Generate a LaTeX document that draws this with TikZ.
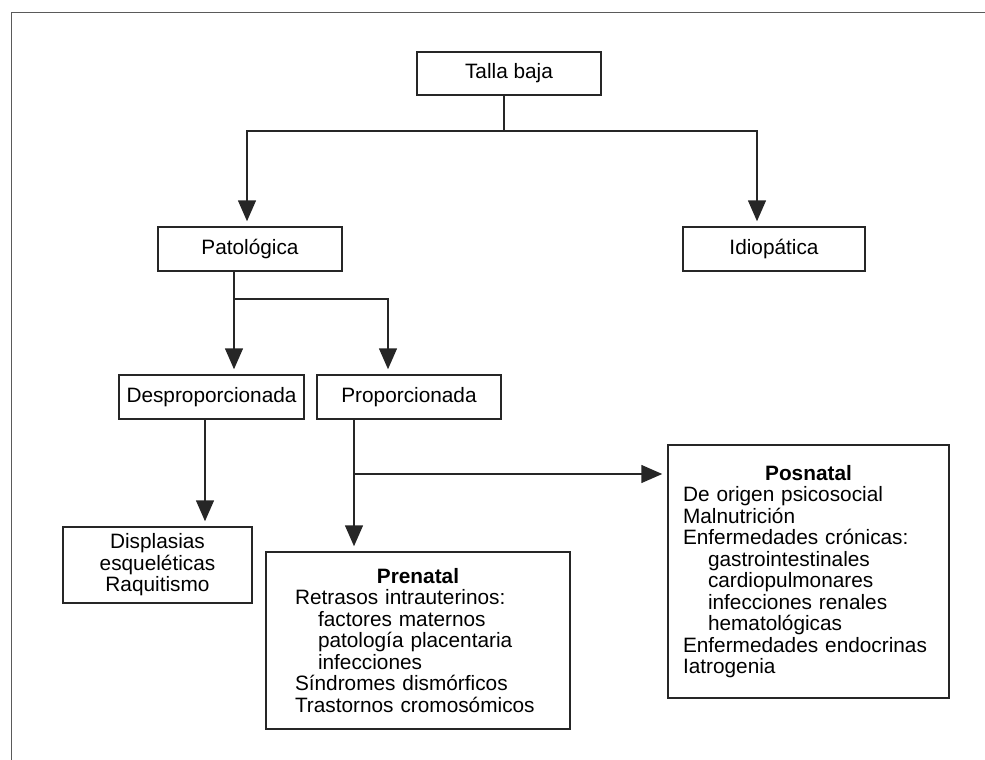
\documentclass[tikz,border=0pt]{standalone}
\usepackage{fontspec}
\setmainfont{Liberation Sans}
\usetikzlibrary{arrows.meta,positioning}
\definecolor{linea}{HTML}{262626}
\definecolor{marco}{HTML}{5A5A5A}
\hyphenpenalty=10000

\begin{document}
\begin{tikzpicture}[x=1pt, y=-1pt,
  box/.style={draw=linea, line width=1.5pt, inner sep=0pt, minimum height=44pt,
              text=black, font=\fontsize{20.8}{21.5}\selectfont},
  listbox/.style={box, align=left},
  arr/.style={draw=linea, line width=1.5pt,
              -{Triangle[length=21pt,width=18pt]}, shorten >=5pt}]
  \useasboundingbox (0,0) rectangle (985,760);
  % marco exterior
  \draw[marco, line width=1.5pt] (11.7,760) -- (11.7,12.7) -- (985,12.7);
  % cajas
  \node[box, minimum width=184pt, minimum height=43pt] (talla) at (509,73.5) {Talla baja};
  \node[box, minimum width=184pt] (pato) at (250,249) {Patológica};
  \node[box, minimum width=182pt] (idio) at (774,249) {Idiopática};
  \node[box, minimum width=185pt] (desp) at (211.5,397) {Desproporcionada};
  \node[box, minimum width=184pt] (prop) at (409,397) {Proporcionada};
  \node[box, align=center, minimum width=189pt, minimum height=76pt] (displ) at (157.5,565)
      {Displasias\\esqueléticas\\Raquitismo};
  \node[listbox, text width=246pt, inner xsep=29pt, minimum height=177pt] (prenatal) at (418,640.5)
      {\makebox[\hsize]{\textbf{Prenatal}}\\
       Retrasos intrauterinos:\\
       \hspace*{23pt}factores maternos\\
       \hspace*{23pt}patología placentaria\\
       \hspace*{23pt}infecciones\\
       Síndromes dismórficos\\
       Trastornos cromosómicos};
  \node[listbox, text width=251pt, inner xsep=15pt, minimum height=253pt] (posnatal) at (808.5,571.5)
      {\makebox[\hsize]{\textbf{Posnatal}}\\
       De origen psicosocial\\
       Malnutrición\\
       Enfermedades crónicas:\\
       \hspace*{25pt}gastrointestinales\\
       \hspace*{25pt}cardiopulmonares\\
       \hspace*{25pt}infecciones renales\\
       \hspace*{25pt}hematológicas\\
       Enfermedades endocrinas\\
       Iatrogenia};
  % puntos de unión
  \coordinate (j1) at (504,131);
  \coordinate (j1l) at (247,131);
  \coordinate (j1r) at (757,131);
  \coordinate (j2) at (234,299);
  \coordinate (j2r) at (388,299);
  \coordinate (j3) at (205,419);
  \coordinate (j4) at (354,474);
  % conectores
  \draw[linea, line width=1.5pt] (talla.south -| j1) -- (j1);
  \draw[arr] (j1) -- (j1l) -- (pato.north -| j1l);
  \draw[arr] (j1) -- (j1r) -- (idio.north -| j1r);
  \draw[arr] (pato.south -| j2) -- (desp.north -| j2);
  \draw[arr] (j2) -- (j2r) -- (prop.north -| j2r);
  \draw[arr] (desp.south -| j3) -- (displ.north -| j3);
  \draw[arr] (prop.south -| j4) -- (prenatal.north -| j4);
  \draw[arr] (j4) -- (posnatal.west |- j4);
\end{tikzpicture}
\end{document}
